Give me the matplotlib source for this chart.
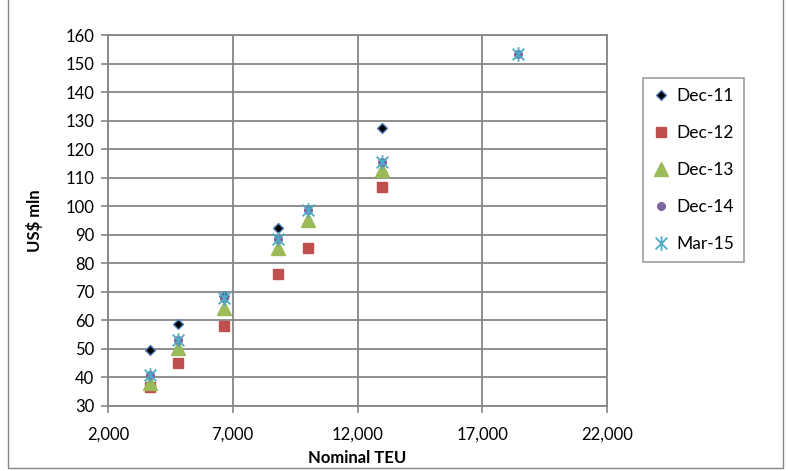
import matplotlib
matplotlib.use("Agg")
import matplotlib.pyplot as plt
from matplotlib.path import Path
from matplotlib.patches import Rectangle

plt.rcParams['font.family'] = ['Lato', 'DejaVu Sans']

# Data
teu_11 = [3700, 4800, 6650, 8800, 13000]
usd_11 = [49.5, 58.9, 68.6, 92.2, 127.5]

teu_12 = [3700, 4800, 6650, 8800, 10000, 13000]
usd_12 = [36.8, 45.0, 58.0, 76.4, 85.2, 106.8]

teu_13 = [3700, 4800, 6650, 8800, 10000, 13000]
usd_13 = [38.0, 50.2, 64.5, 85.2, 95.1, 112.8]

teu_14 = [3700, 4800, 6650, 8800, 10000, 13000, 18450]
usd_14 = [40.8, 53.0, 67.8, 88.4, 98.6, 115.6, 153.3]

teu_15 = [3700, 4800, 6650, 8800, 10000, 13000, 18450]
usd_15 = [40.8, 53.0, 67.8, 88.4, 98.6, 115.6, 153.3]

labels = ['Dec-11', 'Dec-12', 'Dec-13', 'Dec-14', 'Mar-15']
x_ticks = [2000, 7000, 12000, 17000, 22000]
y_ticks = list(range(30, 161, 10))

grid_c = '#868686'

star = Path([(-1, -1), (1, 1), (-1, 1), (1, -1), (0, -1.25), (0, 1.25)],
            [Path.MOVETO, Path.LINETO, Path.MOVETO, Path.LINETO, Path.MOVETO, Path.LINETO])

fig = plt.figure(figsize=(7.88, 4.71), dpi=100)
ax = fig.add_axes([108/788, 1-406/471, (607-108)/788, (406-35)/471])

ax.plot(teu_11, usd_11, linestyle='none', marker='D', ms=5.5, mfc='black', mec='#4F81BD', mew=1.0, label=labels[0], zorder=3)
ax.plot(teu_12, usd_12, linestyle='none', marker='s', ms=7.5, mfc='#C0504D', mec='#C0504D', label=labels[1], zorder=3)
ax.plot(teu_13, usd_13, linestyle='none', marker='^', ms=10.5, mfc='#9BBB59', mec='#9BBB59', label=labels[2], zorder=3)
ax.plot(teu_14, usd_14, linestyle='none', marker='o', ms=5.5, mfc='#8064A2', mec='#8064A2', label=labels[3], zorder=3)
ax.plot(teu_15, usd_15, linestyle='none', marker=star, ms=10.5, mfc='none', mec='#4BACC6', mew=1.3, label=labels[4], zorder=4)

ax.set_xlim(2000, 22000)
ax.set_ylim(30, 160)
ax.set_xticks(x_ticks)
ax.set_xticklabels([f'{v:,}' for v in x_ticks])
ax.set_yticks(y_ticks)
ax.grid(True, color=grid_c, linewidth=1.3)
ax.set_axisbelow(True)
for s in ax.spines.values():
    s.set_color(grid_c)
    s.set_linewidth(1.3)
ax.tick_params(axis='both', colors=grid_c, labelcolor='black', labelsize=12, length=5, width=1.2)
ax.tick_params(axis='x', pad=10)
ax.tick_params(axis='y', pad=5)

ax.set_xlabel('Nominal TEU', fontsize=12, fontweight='bold', labelpad=5)
ax.set_ylabel('US$ mln', fontsize=12, fontweight='bold', labelpad=16)

leg = ax.legend(loc='upper left', bbox_to_anchor=(643/788, 1-78/471), bbox_transform=fig.transFigure,
                frameon=True, fancybox=False, fontsize=12.5, labelspacing=1.2,
                handlelength=0.9, handletextpad=0.4, borderpad=0.6, borderaxespad=0)
leg.get_frame().set_edgecolor(grid_c)
leg.get_frame().set_linewidth(1.2)

fig.patches.append(Rectangle((8/788, 3/471), (783-8)/788, 1.2, transform=fig.transFigure,
                             fill=False, edgecolor=grid_c, linewidth=1.0))

fig.savefig('out.png', dpi=100)
